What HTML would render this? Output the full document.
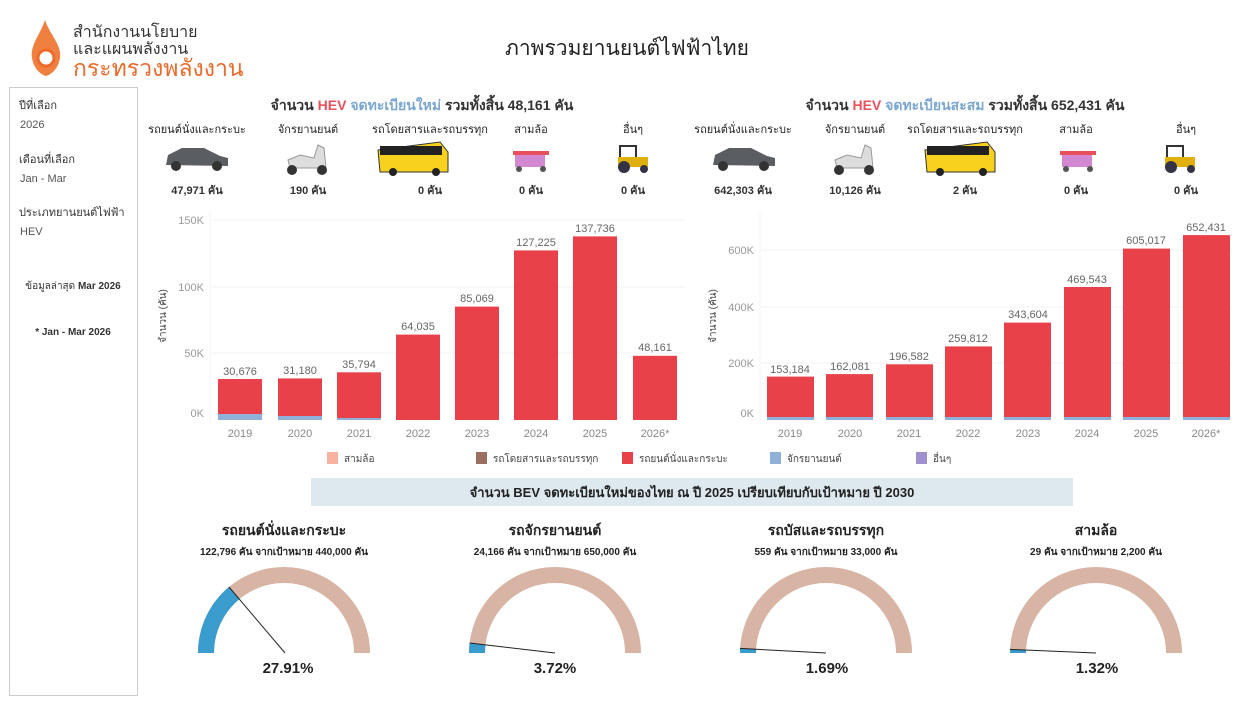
<!DOCTYPE html>
<html><head><meta charset="utf-8"><style>
body{margin:0;background:#fff;}
svg{display:block;font-family:"Liberation Sans","DejaVu Sans",sans-serif;}
</style></head><body>
<svg width="1255" height="705" viewBox="0 0 1255 705" xmlns="http://www.w3.org/2000/svg">
<rect width="1255" height="705" fill="#fff"/>
<!-- logo -->
<g fill="none" stroke="#ec6a2c" stroke-width="3">
<path d="M45 20 C40 35 30 45 32 58 C34 70 42 75 46 76 C50 75 58 70 60 58 C62 45 50 35 45 20Z" fill="#f08040" stroke="none"/>
<circle cx="46" cy="58" r="8" fill="#fff" stroke="#ec6a2c"/>
</g>
<text x="73" y="37" font-size="16" fill="#333">สำนักงานนโยบาย</text>
<text x="73" y="54" font-size="16" fill="#333">และแผนพลังงาน</text>
<text x="73" y="76" font-size="23" fill="#ec6a2c">กระทรวงพลังงาน</text>
<text x="627" y="55" font-size="21" fill="#222" text-anchor="middle">ภาพรวมยานยนต์ไฟฟ้าไทย</text>
<!-- left panel -->
<rect x="9.5" y="87.5" width="128" height="608" fill="#fff" stroke="#ccc"/>
<g font-size="11" fill="#333">
<text x="19" y="109">ปีที่เลือก</text><text x="20" y="128" fill="#555">2026</text>
<text x="19" y="163">เดือนที่เลือก</text><text x="20" y="182" fill="#555">Jan - Mar</text>
<text x="19" y="216">ประเภทยานยนต์ไฟฟ้า</text><text x="20" y="235" fill="#555">HEV</text>
<text x="73" y="289" font-size="10" text-anchor="middle">ข้อมูลล่าสุด <tspan font-weight="bold">Mar 2026</tspan></text>
<text x="73" y="335" font-size="10" font-weight="bold" text-anchor="middle">* Jan - Mar 2026</text>
</g>
<!-- section titles -->
<text x="422" y="110" font-size="14" font-weight="bold" text-anchor="middle" fill="#333">จำนวน <tspan fill="#e8505b">HEV</tspan> <tspan fill="#7aa6d0">จดทะเบียนใหม่</tspan> รวมทั้งสิ้น 48,161 คัน</text>
<text x="965" y="110" font-size="14" font-weight="bold" text-anchor="middle" fill="#333">จำนวน <tspan fill="#e8505b">HEV</tspan> <tspan fill="#7aa6d0">จดทะเบียนสะสม</tspan> รวมทั้งสิ้น 652,431 คัน</text>
<g font-size="11" fill="#222" text-anchor="middle">
<text x="197" y="133">รถยนต์นั่งและกระบะ</text><text x="308" y="133">จักรยานยนต์</text><text x="430" y="133">รถโดยสารและรถบรรทุก</text><text x="531" y="133">สามล้อ</text><text x="633" y="133">อื่นๆ</text>
<text x="743" y="133">รถยนต์นั่งและกระบะ</text><text x="855" y="133">จักรยานยนต์</text><text x="965" y="133">รถโดยสารและรถบรรทุก</text><text x="1076" y="133">สามล้อ</text><text x="1186" y="133">อื่นๆ</text>
</g>
<g font-size="11" font-weight="bold" fill="#333" text-anchor="middle">
<text x="197" y="194">47,971 คัน</text><text x="308" y="194">190 คัน</text><text x="430" y="194">0 คัน</text><text x="531" y="194">0 คัน</text><text x="633" y="194">0 คัน</text>
<text x="743" y="194">642,303 คัน</text><text x="855" y="194">10,126 คัน</text><text x="965" y="194">2 คัน</text><text x="1076" y="194">0 คัน</text><text x="1186" y="194">0 คัน</text>
</g>
<!-- icons -->
<g id="ic1">
<path d="M166 165 L168 155 L182 148 L204 148 L220 156 L228 158 L228 166 Z" fill="#5a5e63"/>
<circle cx="176" cy="166" r="5" fill="#333"/><circle cx="217" cy="166" r="5" fill="#333"/>
<path d="M288 160 L300 155 L314 158 L318 145 L324 148 L326 168 L290 168Z" fill="#ddd" stroke="#999"/>
<circle cx="292" cy="170" r="5" fill="#333"/><circle cx="322" cy="170" r="5" fill="#333"/>
<path d="M378 150 L440 142 L448 152 L448 172 L380 172 Z" fill="#f7d11e" stroke="#333"/>
<rect x="380" y="146" width="62" height="9" fill="#222"/>
<circle cx="393" cy="172" r="4" fill="#222"/><circle cx="436" cy="172" r="4" fill="#222"/>
<rect x="513" y="151" width="36" height="4" fill="#e8505b"/><rect x="515" y="155" width="30" height="12" fill="#c76bc7" opacity=".8"/>
<circle cx="519" cy="169" r="3" fill="#555"/><circle cx="543" cy="169" r="3" fill="#555"/>
<rect x="620" y="146" width="16" height="12" fill="none" stroke="#333" stroke-width="2"/><rect x="618" y="157" width="30" height="10" fill="#e0b010"/>
<circle cx="624" cy="167" r="6" fill="#334"/><circle cx="644" cy="169" r="4" fill="#334"/>
</g>
<use href="#ic1" x="547" y="0"/>
<!-- left chart -->
<g font-size="11" fill="#999">
<line x1="210" y1="220" x2="685" y2="220" stroke="#f3f3f3"/><line x1="210" y1="287" x2="685" y2="287" stroke="#f3f3f3"/><line x1="210" y1="353" x2="685" y2="353" stroke="#f3f3f3"/>
<line x1="210" y1="212" x2="210" y2="421" stroke="#f3f3f3"/>
<text x="204" y="224" text-anchor="end">150K</text><text x="204" y="291" text-anchor="end">100K</text><text x="204" y="357" text-anchor="end">50K</text><text x="204" y="417" text-anchor="end">0K</text>
<text x="166" y="316" transform="rotate(-90 166 316)" text-anchor="middle" fill="#444" font-size="10">จำนวน (คัน)</text>
</g>
<g fill="#e84149">
<rect x="218" y="379" width="44" height="41"/><rect x="278" y="378.4" width="44" height="41.6"/><rect x="337" y="372.3" width="44" height="47.7"/><rect x="396" y="334.6" width="44" height="85.4"/>
<rect x="455" y="306.6" width="44" height="113.4"/><rect x="514" y="250.4" width="44" height="169.6"/><rect x="573" y="236.4" width="44" height="183.6"/><rect x="633" y="355.8" width="44" height="64.2"/>
</g>
<g fill="#8fb0d8"><rect x="218" y="414" width="44" height="6"/><rect x="278" y="416" width="44" height="4"/><rect x="337" y="418" width="44" height="2"/></g>
<g font-size="11" fill="#666" text-anchor="middle">
<text x="240" y="375">30,676</text><text x="300" y="374">31,180</text><text x="359" y="368">35,794</text><text x="418" y="330">64,035</text><text x="477" y="302">85,069</text><text x="536" y="246">127,225</text><text x="595" y="232">137,736</text><text x="655" y="351">48,161</text>
<g fill="#888"><text x="240" y="437">2019</text><text x="300" y="437">2020</text><text x="359" y="437">2021</text><text x="418" y="437">2022</text><text x="477" y="437">2023</text><text x="536" y="437">2024</text><text x="595" y="437">2025</text><text x="655" y="437">2026*</text></g>
</g>
<!-- right chart -->
<g font-size="11" fill="#999">
<line x1="760" y1="250" x2="1232" y2="250" stroke="#f3f3f3"/><line x1="760" y1="307" x2="1232" y2="307" stroke="#f3f3f3"/><line x1="760" y1="363" x2="1232" y2="363" stroke="#f3f3f3"/>
<line x1="760" y1="212" x2="760" y2="421" stroke="#f3f3f3"/>
<text x="754" y="254" text-anchor="end">600K</text><text x="754" y="311" text-anchor="end">400K</text><text x="754" y="367" text-anchor="end">200K</text><text x="754" y="417" text-anchor="end">0K</text>
<text x="716" y="316" transform="rotate(-90 716 316)" text-anchor="middle" fill="#444" font-size="10">จำนวน (คัน)</text>
</g>
<g fill="#e84149">
<rect x="767" y="376.6" width="47" height="43.4"/><rect x="826" y="374.1" width="47" height="45.9"/><rect x="886" y="364.3" width="47" height="55.7"/><rect x="945" y="346.4" width="47" height="73.6"/>
<rect x="1004" y="322.6" width="47" height="97.4"/><rect x="1064" y="287" width="47" height="133"/><rect x="1123" y="248.6" width="47" height="171.4"/><rect x="1183" y="235.1" width="47" height="184.9"/>
</g>
<g fill="#8fb0d8"><rect x="767" y="417" width="47" height="3"/><rect x="826" y="417" width="47" height="3"/><rect x="886" y="417" width="47" height="3"/><rect x="945" y="417" width="47" height="3"/><rect x="1004" y="417" width="47" height="3"/><rect x="1064" y="417" width="47" height="3"/><rect x="1123" y="417" width="47" height="3"/><rect x="1183" y="417" width="47" height="3"/></g>
<g font-size="11" fill="#666" text-anchor="middle">
<text x="790" y="373">153,184</text><text x="850" y="370">162,081</text><text x="909" y="360">196,582</text><text x="968" y="342">259,812</text><text x="1028" y="318">343,604</text><text x="1087" y="283">469,543</text><text x="1146" y="244">605,017</text><text x="1206" y="231">652,431</text>
<g fill="#888"><text x="790" y="437">2019</text><text x="850" y="437">2020</text><text x="909" y="437">2021</text><text x="968" y="437">2022</text><text x="1028" y="437">2023</text><text x="1087" y="437">2024</text><text x="1146" y="437">2025</text><text x="1206" y="437">2026*</text></g>
</g>
<!-- legend -->
<g font-size="10" fill="#444">
<rect x="327" y="452" width="11" height="12" fill="#f7b2a0"/><text x="344" y="462">สามล้อ</text>
<rect x="476" y="452" width="11" height="12" fill="#9c7060"/><text x="493" y="462">รถโดยสารและรถบรรทุก</text>
<rect x="622" y="452" width="11" height="12" fill="#e84149"/><text x="639" y="462">รถยนต์นั่งและกระบะ</text>
<rect x="770" y="452" width="11" height="12" fill="#8fb0d8"/><text x="787" y="462">จักรยานยนต์</text>
<rect x="916" y="452" width="11" height="12" fill="#a090d0"/><text x="933" y="462">อื่นๆ</text>
</g>
<!-- banner -->
<rect x="311" y="478" width="762" height="28" fill="#dde8ef"/>
<text x="692" y="497" font-size="13" font-weight="bold" fill="#222" text-anchor="middle">จำนวน BEV จดทะเบียนใหม่ของไทย ณ ปี 2025 เปรียบเทียบกับเป้าหมาย ปี 2030</text>
<!-- gauges -->
<g fill="none" stroke="#d8b4a4" stroke-width="16">
<path d="M206 653 A78 78 0 0 1 362 653"/><path d="M477 653 A78 78 0 0 1 633 653"/><path d="M748 653 A78 78 0 0 1 904 653"/><path d="M1018 653 A78 78 0 0 1 1174 653"/>
</g>
<g fill="#3a9ccc">
<path d="M198 653 A86 86 0 0 1 229 586.9 L239.2 599.2 A70 70 0 0 0 214 653Z"/>
<path d="M469 653 A86 86 0 0 1 469.6 643 L485.5 644.8 A70 70 0 0 0 485 653Z"/>
<path d="M740 653 A86 86 0 0 1 740.1 648.4 L756.1 649.3 A70 70 0 0 0 756 653Z"/>
<path d="M1010 653 A86 86 0 0 1 1010.1 649.4 L1026.1 650.1 A70 70 0 0 0 1026 653Z"/>
</g>
<g stroke="#222" stroke-width="1">
<line x1="229" y1="587" x2="285" y2="653"/><line x1="469.6" y1="643" x2="555" y2="653"/><line x1="740" y1="648.4" x2="826" y2="653"/><line x1="1010" y1="649.4" x2="1096" y2="653"/>
</g>
<g text-anchor="middle" fill="#222">
<g font-size="14" font-weight="bold"><text x="284" y="535">รถยนต์นั่งและกระบะ</text><text x="555" y="535">รถจักรยานยนต์</text><text x="826" y="535">รถบัสและรถบรรทุก</text><text x="1096" y="535">สามล้อ</text></g>
<g font-size="10" font-weight="bold"><text x="284" y="555">122,796 คัน จากเป้าหมาย 440,000 คัน</text><text x="555" y="555">24,166 คัน จากเป้าหมาย 650,000 คัน</text><text x="826" y="555">559 คัน จากเป้าหมาย 33,000 คัน</text><text x="1096" y="555">29 คัน จากเป้าหมาย 2,200 คัน</text></g>
<g font-size="15" font-weight="bold"><text x="288" y="673">27.91%</text><text x="555" y="673">3.72%</text><text x="827" y="673">1.69%</text><text x="1097" y="673">1.32%</text></g>
</g>
</svg>
</body></html>
